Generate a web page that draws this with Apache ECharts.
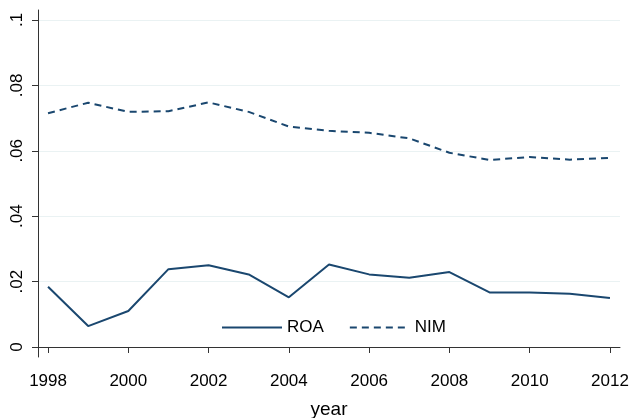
<!DOCTYPE html>
<html>
<head>
<meta charset="utf-8">
<script src="https://cdn.jsdelivr.net/npm/echarts@6/dist/echarts.min.js"></script>
<style>
  html, body { margin: 0; padding: 0; background: #fff; }
  #chart { width: 632px; height: 418px; }
</style>
</head>
<body>
<div id="chart"></div>
<script>
const years = [1998, 1999, 2000, 2001, 2002, 2003, 2004, 2005, 2006, 2007, 2008, 2009, 2010, 2011, 2012];
const roa = [0.0184, 0.0064, 0.0110, 0.0238, 0.0250, 0.0222, 0.0152, 0.0252, 0.0222, 0.0212, 0.0229, 0.0167, 0.0167, 0.0163, 0.0150];
const nim = [0.0715, 0.0747, 0.0719, 0.0721, 0.0748, 0.0719, 0.0674, 0.0661, 0.0655, 0.0638, 0.0594, 0.0572, 0.0581, 0.0573, 0.0578];
const xTicks = [1998, 2000, 2002, 2004, 2006, 2008, 2010, 2012];
const yTicks = [0, 0.02, 0.04, 0.06, 0.08, 0.1];

const navy = "#1a476f";
const font = "'Liberation Sans', Arial, sans-serif";

window.chart = echarts.init(document.getElementById("chart"));

function pairs(vals) {
  return years.map((y, i) => [y, vals[i]]);
}

function fmtY(v) {
  if (Math.abs(v) < 1e-9) return "0";
  return String(Number(v.toFixed(2))).replace(/^0/, "");
}

chart.setOption({
  animation: false,
  backgroundColor: "#fff",
  grid: { left: 38, right: 12, top: 10, bottom: 61, outerBoundsMode: "none", containLabel: false },
  legend: {
    left: 216,
    top: 314,
    itemWidth: 60,
    itemHeight: 10,
    itemGap: 25,
    itemStyle: { opacity: 0 },
    textStyle: { fontFamily: font, fontSize: 17, color: "#000" },
    data: ["ROA", "NIM"],
  },
  xAxis: {
    type: "value",
    min: 1997.75,
    max: 2012.25,
    name: "year",
    nameLocation: "middle",
    nameGap: 43,
    nameTextStyle: { fontFamily: font, fontSize: 19, color: "#000" },
    axisLine: { lineStyle: { color: "#333", width: 1 } },
    axisTick: { show: true, length: 6, customValues: xTicks, lineStyle: { color: "#333" } },
    axisLabel: {
      customValues: xTicks,
      margin: 16,
      fontFamily: font,
      fontSize: 17,
      color: "#000",
      formatter: (v) => String(v),
    },
    splitLine: { show: false },
  },
  yAxis: {
    type: "value",
    min: -0.00306,
    max: 0.10306,
    axisLine: { show: true, lineStyle: { color: "#333", width: 1 } },
    axisTick: { show: true, length: 6, customValues: yTicks, lineStyle: { color: "#333" } },
    axisLabel: {
      customValues: yTicks,
      rotate: 90,
      margin: 12,
      fontFamily: font,
      fontSize: 17,
      color: "#000",
      formatter: fmtY,
    },
    splitLine: { show: true, lineStyle: { color: "#eaf2f3", width: 1 } },
  },
  series: [
    {
      name: "ROA",
      type: "line",
      data: pairs(roa),
      symbol: "none",
      lineStyle: { color: navy, width: 2 },
      itemStyle: { color: navy },
    },
    {
      name: "NIM",
      type: "line",
      data: pairs(nim),
      symbol: "none",
      lineStyle: { color: navy, width: 2, type: [7, 5] },
      itemStyle: { color: navy },
    },
  ],
});
</script>
</body>
</html>
